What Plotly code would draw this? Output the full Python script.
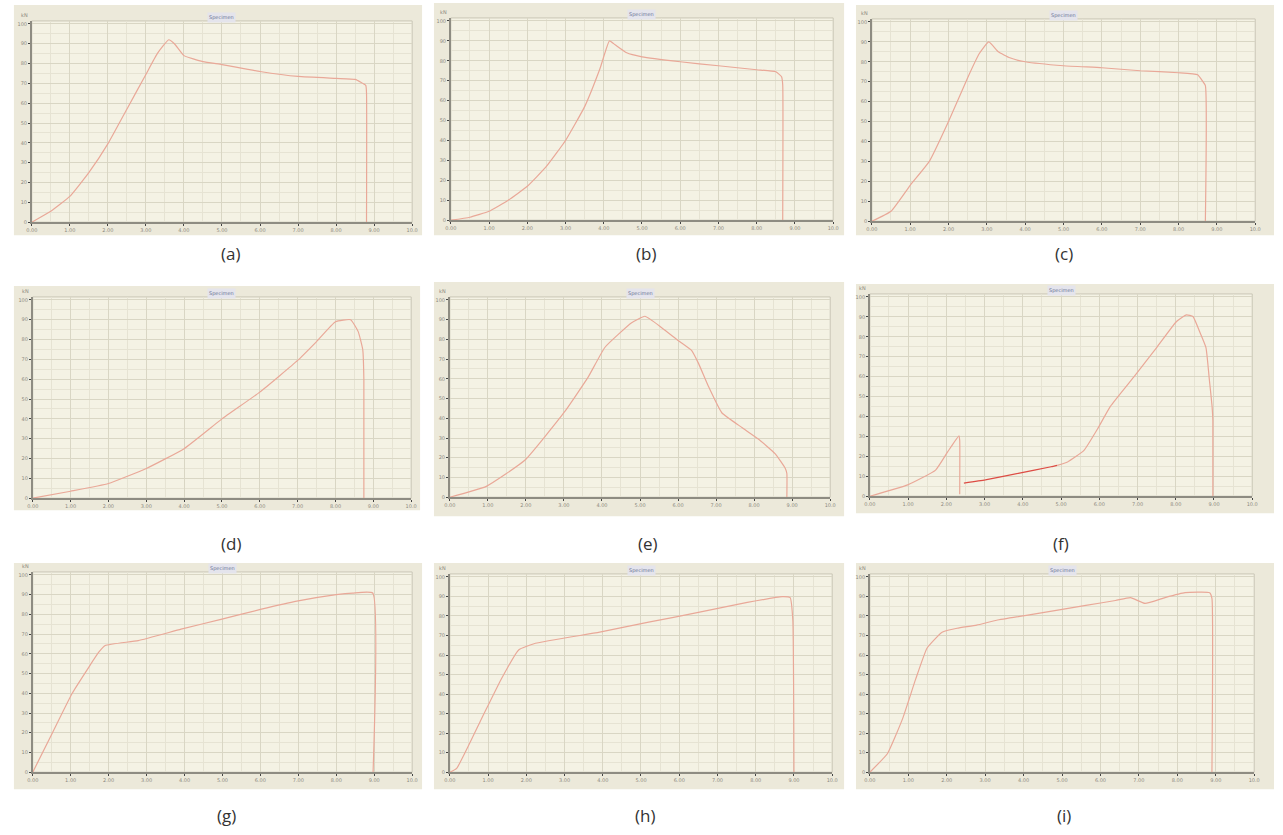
import plotly.graph_objects as go

W, H = 1283, 835

# ---------------- data (normalised displacement 0-10, load 0-10) ----------------
a_x = [0.0, 0.5, 1.0, 1.5, 2.0, 2.5, 3.0, 3.3, 3.6, 3.75, 4.0, 4.5, 5.0, 6.0, 7.0, 8.0, 8.5, 8.78, 8.8, 8.8]
a_y = [0.0, 0.55, 1.3, 2.5, 3.95, 5.7, 7.45, 8.5, 9.2, 9.0, 8.4, 8.1, 7.95, 7.6, 7.35, 7.25, 7.2, 6.9, 6.5, 0.0]

b_x = [0.0, 0.5, 1.0, 1.5, 2.0, 2.5, 3.0, 3.5, 3.9, 4.15, 4.3, 4.6, 5.0, 6.0, 7.0, 8.0, 8.5, 8.65, 8.68, 8.68]
b_y = [0.0, 0.15, 0.45, 1.0, 1.7, 2.7, 4.0, 5.7, 7.6, 9.0, 8.8, 8.4, 8.2, 7.95, 7.75, 7.55, 7.45, 7.2, 6.8, 0.0]

c_x = [0.0, 0.5, 1.0, 1.5, 2.0, 2.5, 2.8, 3.05, 3.3, 3.6, 4.0, 5.0, 6.0, 7.0, 8.0, 8.5, 8.6, 8.7, 8.7]
c_y = [0.0, 0.5, 1.8, 3.0, 5.0, 7.2, 8.4, 9.0, 8.5, 8.2, 8.0, 7.8, 7.7, 7.55, 7.45, 7.35, 7.1, 6.8, 0.0]

d_x = [0.0, 1.0, 2.0, 3.0, 4.0, 5.0, 6.0, 7.0, 7.5, 8.0, 8.4, 8.6, 8.72, 8.75, 8.75]
d_y = [0.0, 0.35, 0.74, 1.5, 2.5, 4.0, 5.35, 6.95, 7.9, 8.9, 9.0, 8.4, 7.5, 6.0, 0.0]

e_x = [0.0, 0.96, 1.97, 3.03, 3.64, 4.08, 4.78, 5.13, 5.57, 6.01, 6.36, 6.54, 6.8, 7.15, 7.68, 8.11, 8.55, 8.82, 8.86, 8.86]
e_y = [0.0, 0.55, 1.87, 4.36, 6.1, 7.6, 8.84, 9.17, 8.59, 7.93, 7.43, 6.77, 5.61, 4.28, 3.53, 2.95, 2.21, 1.46, 1.2, 0.0]

f1_x = [0.0, 0.99, 1.72, 2.03, 2.33, 2.35, 2.35]
f1_y = [0.0, 0.57, 1.31, 2.21, 3.03, 2.8, 0.1]
f2_x = [2.46, 3.02, 3.88, 4.74, 4.9]
f2_y = [0.66, 0.82, 1.15, 1.48, 1.55]
f3_x = [4.9, 5.17, 5.6, 5.95, 6.29, 6.9, 7.5, 8.02, 8.28, 8.45, 8.62, 8.79, 8.88, 8.95, 8.97, 8.97]
f3_y = [1.55, 1.72, 2.3, 3.36, 4.51, 5.98, 7.46, 8.77, 9.1, 9.02, 8.28, 7.46, 5.82, 4.51, 3.8, 0.0]

g_x = [0.0, 0.52, 1.04, 1.48, 1.74, 1.91, 2.78, 3.91, 4.96, 6.0, 6.96, 8.0, 8.43, 8.96, 8.97]
g_y = [0.0, 2.0, 4.0, 5.33, 6.08, 6.42, 6.67, 7.25, 7.75, 8.25, 8.67, 9.0, 9.08, 9.08, 0.0]

h_x = [0.0, 0.18, 0.82, 1.34, 1.8, 2.24, 3.92, 5.2, 6.5, 7.78, 8.69, 8.9, 8.97, 9.0]
h_y = [0.0, 0.2, 2.7, 4.75, 6.26, 6.6, 7.17, 7.68, 8.18, 8.69, 8.99, 8.94, 7.8, 0.0]

i_x = [0.0, 0.46, 0.85, 1.19, 1.49, 1.88, 2.27, 2.78, 3.3, 4.07, 4.85, 5.62, 6.39, 6.78, 7.16, 7.68, 8.2, 8.84, 8.9, 8.9]
i_y = [0.0, 0.96, 2.73, 4.75, 6.36, 7.17, 7.37, 7.53, 7.78, 8.03, 8.28, 8.54, 8.79, 8.94, 8.64, 8.94, 9.19, 9.19, 8.9, 0.0]

panel_labels = ["(a)", "(b)", "(c)", "(d)", "(e)", "(f)", "(g)", "(h)", "(i)"]
x_ticks = [0, 1, 2, 3, 4, 5, 6, 7, 8, 9, 10]
x_tick_text = ["0.00", "1.00", "2.00", "3.00", "4.00", "5.00", "6.00", "7.00", "8.00", "9.00", "10.0"]
y_ticks = [0, 1, 2, 3, 4, 5, 6, 7, 8, 9, 10]
y_tick_text = ["0", "10", "20", "30", "40", "50", "60", "70", "80", "90", "100"]

# ---------------- layout geometry (pixels) ----------------
frames = [
    (8, 420, 5, 236), (432, 846, 3, 236), (858, 1280, 5, 236),
    (8, 418, 287, 512), (432, 846, 283, 518), (858, 1280, 285, 515),
    (8, 420, 565, 792), (432, 846, 565, 792), (858, 1280, 565, 792),
]
plots = [
    (26, 410, 21, 223), (449, 835, 18, 221), (874, 1261, 19, 222),
    (27, 409, 298, 500), (448, 832, 298, 499), (872, 1258, 295, 498),
    (27, 410, 574, 775), (448, 834, 576, 775), (872, 1260, 576, 775),
]
label_pos = [(227, 254), (646, 254), (1068, 254),
             (227, 545), (648, 545), (1065, 545),
             (223, 818), (645, 818), (1068, 818)]

LINE = "#E9A898"
RED = "#DD4C44"
FRAME = "#ECE9DA"
PLOTBG = "#F4F2E4"
GRID = "#D9D6C4"
MINOR = "#E6E3D3"

def px(x):
    return x / W

def py(y):
    return 1 - y / H

fig = go.Figure()

series = [
    [(a_x, a_y, LINE)],
    [(b_x, b_y, LINE)],
    [(c_x, c_y, LINE)],
    [(d_x, d_y, LINE)],
    [(e_x, e_y, LINE)],
    [(f1_x, f1_y, LINE), (f2_x, f2_y, RED), (f3_x, f3_y, LINE)],
    [(g_x, g_y, LINE)],
    [(h_x, h_y, LINE)],
    [(i_x, i_y, LINE)],
]

shapes = []
annotations = []
for k in range(9):
    n = "" if k == 0 else str(k + 1)
    fx0, fx1, fy0, fy1 = frames[k]
    shapes.append(dict(type="rect", xref="paper", yref="paper", layer="below",
                       x0=px(fx0), x1=px(fx1), y0=py(fy1), y1=py(fy0),
                       fillcolor=FRAME, line=dict(width=0)))
    x0, x1, y0, y1 = plots[k]
    for (sx, sy, col) in series[k]:
        fig.add_trace(go.Scatter(x=sx, y=sy, mode="lines",
                                 line=dict(color=col, width=1.2, shape="spline", smoothing=0.4),
                                 xaxis="x" + n, yaxis="y" + n,
                                 showlegend=False, hoverinfo="skip"))
    fig.layout["xaxis" + n] = dict(
        domain=[px(x0), px(x1)], anchor="y" + n, range=[0, 10],
        tickvals=x_ticks, ticktext=x_tick_text, ticks="outside", ticklen=2,
        tickfont=dict(size=5, color="#8C8A80", family="DejaVu Sans"),
        showgrid=True, gridcolor=GRID, gridwidth=1,
        minor=dict(dtick=0.5, showgrid=True, gridcolor=MINOR, gridwidth=1),
        showline=True, linecolor="#8E8C82", linewidth=1.5, mirror=False,
        zeroline=False, fixedrange=True)
    fig.layout["yaxis" + n] = dict(
        domain=[py(y1), py(y0)], anchor="x" + n, range=[0, 10.15],
        tickvals=y_ticks, ticktext=y_tick_text, ticks="outside", ticklen=2,
        tickfont=dict(size=5, color="#8C8A80", family="DejaVu Sans"),
        showgrid=True, gridcolor=GRID, gridwidth=1,
        minor=dict(dtick=0.5, showgrid=True, gridcolor=MINOR, gridwidth=1),
        showline=True, linecolor="#8E8C82", linewidth=1.5, mirror=False,
        zeroline=False, fixedrange=True)
    shapes.append(dict(type="rect", xref="paper", yref="paper", layer="below",
                       x0=px(x0), x1=px(x1), y0=py(y1), y1=py(y0),
                       fillcolor=PLOTBG, line=dict(color="#C9C6B6", width=1)))
    annotations.append(dict(xref="paper", yref="paper", x=px((x0 + x1) / 2), y=py(y0 - 3),
                            text="Specimen", showarrow=False,
                            font=dict(size=5, color="#6B7396", family="DejaVu Sans"),
                            bgcolor="#E4E4EC", xanchor="center", yanchor="middle"))
    annotations.append(dict(xref="paper", yref="paper", x=px(x0 - 7), y=py(y0 - 6),
                            text="kN", showarrow=False,
                            font=dict(size=5, color="#8C8A80", family="DejaVu Sans"),
                            xanchor="center", yanchor="middle"))
    lx, ly = label_pos[k]
    annotations.append(dict(xref="paper", yref="paper", x=px(lx), y=py(ly),
                            text=panel_labels[k], showarrow=False,
                            font=dict(size=17, color="#333333", family="Open Sans"),
                            xanchor="center", yanchor="middle"))

fig.update_layout(width=W, height=H, margin=dict(l=0, r=0, t=0, b=0),
                  paper_bgcolor="white", plot_bgcolor="rgba(0,0,0,0)",
                  shapes=shapes, annotations=annotations)

fig.write_html("out.html", config={"displayModeBar": False},
               post_script="document.body.style.margin='0';document.body.style.overflow='hidden';")
